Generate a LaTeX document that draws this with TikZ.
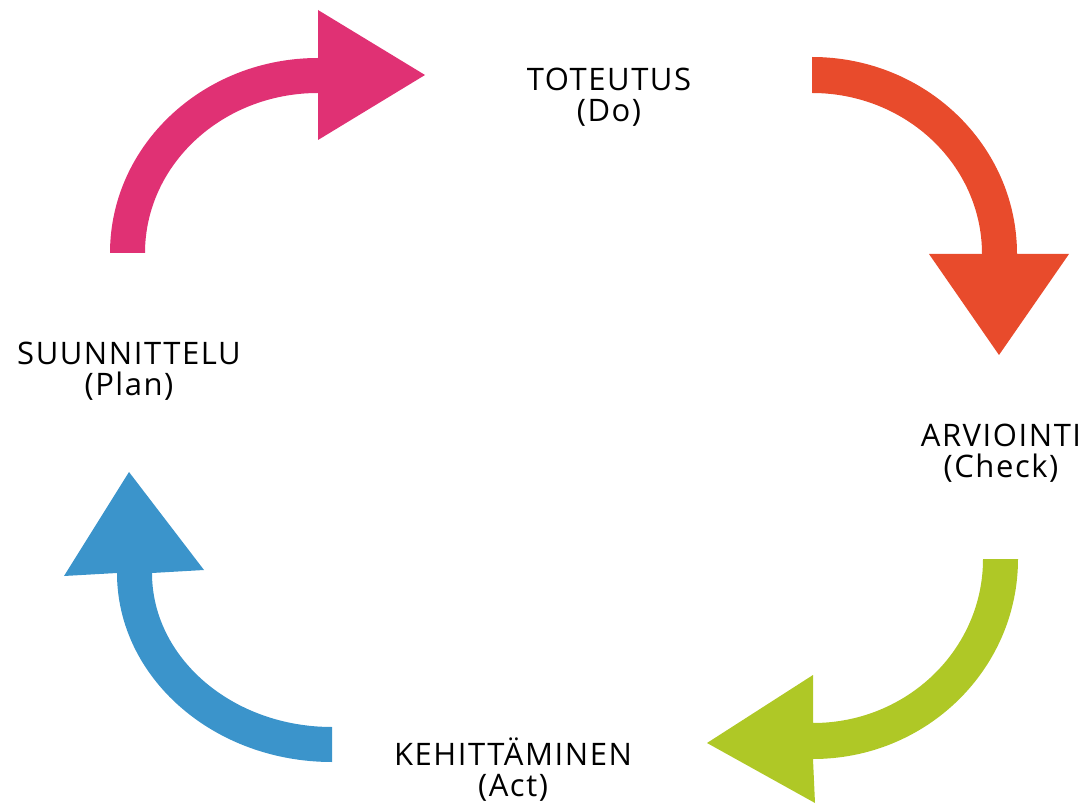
\documentclass[tikz,border=0pt]{standalone}
\usepackage{fontspec}
\setmainfont{Open Sans}[LetterSpace=5]
\usetikzlibrary{calc}

\definecolor{plancol}{HTML}{E03174}
\definecolor{docol}{HTML}{E84B2C}
\definecolor{checkcol}{HTML}{AFC826}
\definecolor{actcol}{HTML}{3B94CB}

\tikzset{
  stage/.style={align=center, inner sep=0pt, font=\fontsize{31}{31}\selectfont},
  pdca/.style={fill=#1, draw=none}
}

\begin{document}
\begin{tikzpicture}[x=1pt, y=1pt]

\useasboundingbox (0,0) rectangle (1084,804);

\node [stage] (do)    at (609,707) {TOTEUTUS\\(Do)};
\node [stage] (check) at (1001,351) {ARVIOINTI\\(Check)};
\node [stage] (act)   at (513,34) {KEHITT\"AMINEN\\(Act)};
\node [stage] (plan)  at (129,433) {SUUNNITTELU\\(Plan)};

% suunnittelu -> toteutus
\fill [pdca=plancol]
  (110,551) arc (180:90:208 and 195)
  -- (318,794) -- (425,729) -- (318,664)
  -- (318,711) arc (90:180:173 and 160) -- cycle;

% toteutus -> arviointi
\fill [pdca=docol]
  (812,747) arc (90:0:205 and 197)
  -- (1069,550) -- (999,449) -- (929,550)
  -- (982,550) arc (0:90:170 and 161) -- cycle;

% arviointi -> kehittaminen
\fill [pdca=checkcol]
  (1018,245) arc (0:-90:205 and 200)
  -- (815,1) -- (707,61) -- (813,129)
  -- (813,81) arc (-90:0:170 and 164) -- cycle;

% kehittaminen -> suunnittelu
\fill [pdca=actcol]
  (332,42) arc (270:180:215 and 189)
  -- (64,228) -- (129,332) -- (204,234)
  -- (152,231) arc (180:270:180 and 154) -- cycle;

\end{tikzpicture}
\end{document}
